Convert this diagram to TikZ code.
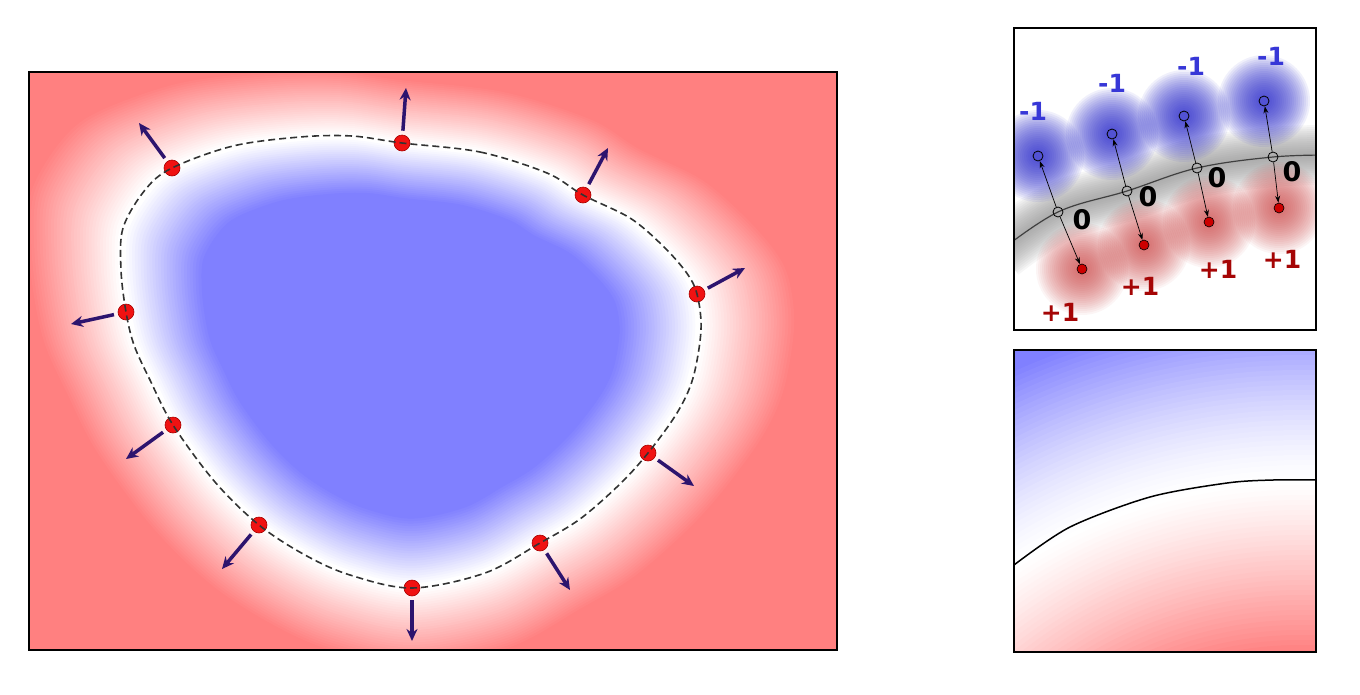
\documentclass[tikz,border=0pt]{standalone}
\usepackage{fontspec}
\setsansfont{DejaVu Sans}
\usepackage{tikz}
\usetikzlibrary{arrows.meta}
\definecolor{fieldred}{RGB}{255,128,128}
\definecolor{fieldblue}{RGB}{128,128,255}
\definecolor{dotred}{RGB}{240,18,18}
\definecolor{normalcol}{RGB}{45,20,110}
\definecolor{glowblue}{RGB}{40,40,205}
\definecolor{glowred}{RGB}{205,60,60}
\definecolor{lblblue}{RGB}{55,55,215}
\definecolor{lblred}{RGB}{165,5,5}

% zero level set of the left panel
\newcommand{\zerolevel}{plot[smooth cycle, tension=0.55] coordinates {(402,143) (480,152) (547,173) (583,195) (630,218) (662,245) (686,272) (697,294) (701,330) (693,378) (677,413) (648,453) (620,484) (580,519) (540,543) (485,573) (412,588) (350,575) (305,555) (259,525) (215,482) (173,425) (150,380) (134,345) (126,312) (121,270) (123,228) (145,190) (172,168) (233,146) (300,137) (352,136)}}
% boundary curve of the top right panel
\newcommand{\zoomcurve}{plot[smooth, tension=0.6] coordinates {(1000,251) (1058,212) (1127,191) (1197,168) (1273,157) (1330,155)}}

\begin{document}
\begin{tikzpicture}[
    x=1pt, y=-1pt,
    dot/.style={circle, fill=dotred, draw=red!65!black, line width=0.6pt,
                inner sep=0pt, minimum size=16pt},
    normal/.style={-{Stealth[length=12pt, width=11pt]}, line width=3.5pt,
                   color=normalcol, shorten <=4pt},
    hollow/.style={circle, draw=black, line width=0.8pt, inner sep=0pt,
                   minimum size=10pt},
    charge/.style={circle, fill=red!80!black, draw=black, line width=0.6pt,
                   inner sep=0pt, minimum size=10pt},
    pair/.style={-{Stealth[length=7pt, width=5pt]}, line width=0.7pt},
    lbl/.style={font=\sffamily\bfseries\fontsize{25}{25}\selectfont, inner sep=0pt},
]
    \useasboundingbox (0,0) rectangle (1360,694);

    % left panel: field
    \begin{scope}
        \clip (29,72) rectangle (837,650);
        \fill[fieldred] (29,72) rectangle (837,650);
        \foreach \k in {0,...,32}{
            \pgfmathsetmacro\s{1.33-0.01*\k}
            \pgfmathsetmacro\p{100*(32-\k)/32}
            \fill[fieldred!\p!white, scale around={\s:(410,340)}] \zerolevel;
        }
        \foreach \k in {0,...,26}{
            \pgfmathsetmacro\s{0.98-0.01*\k}
            \pgfmathsetmacro\p{100*(\k+1)/27}
            \fill[fieldblue!\p!white, scale around={\s:(410,340)}] \zerolevel;
        }
    \end{scope}
    \draw[line width=2.5pt] (29,72) rectangle (837,650);

    % points on the front and outward normals
    \node[dot] (d1) at (402,143) {};
    \node[dot] (d2) at (583,195) {};
    \node[dot] (d3) at (697,294) {};
    \node[dot] (d4) at (648,453) {};
    \node[dot] (d5) at (540,543) {};
    \node[dot] (d6) at (412,588) {};
    \node[dot] (d7) at (259,525) {};
    \node[dot] (d8) at (173,425) {};
    \node[dot] (d9) at (126,312) {};
    \node[dot] (d10) at (172,168) {};
    \draw[dash pattern=on 7pt off 4pt, line width=1.6pt, black!80] \zerolevel;

    \coordinate (t1) at (406,88);
    \coordinate (t2) at (608,148);
    \coordinate (t3) at (745,268);
    \coordinate (t4) at (694,486);
    \coordinate (t5) at (570,590);
    \coordinate (t6) at (412,641);
    \coordinate (t7) at (222,569);
    \coordinate (t8) at (126,459);
    \coordinate (t9) at (71,324);
    \coordinate (t10) at (139,123);
    \foreach \i in {1,...,10}
        \draw[normal] (d\i) -- (t\i);

    % top right panel: signed neighbours
    \begin{scope}
        \clip (1014,28) rectangle (1316,330);
        \fill[white] (1014,28) rectangle (1316,330);
        \foreach \w in {60,56,...,4}
            \draw[black!45, opacity=0.07, line width=\w pt] \zoomcurve;
        \foreach \i/\bx/\by/\rx/\ry in {1/1038/156/1082/269, 2/1112/134/1144/245,
                                        3/1184/116/1209/222, 4/1264/101/1279/208}{
            \coordinate (b\i) at (\bx,\by);
            \coordinate (r\i) at (\rx,\ry);
            \foreach \rr in {46,44,...,4}{
                \fill[glowblue, fill opacity=0.065] (b\i) circle (\rr pt);
                \fill[glowred, fill opacity=0.05] (r\i) circle (\rr pt);
            }
        }
        \draw[line width=1.2pt, black!75] \zoomcurve;
    \end{scope}
    \draw[line width=1.5pt] (1014,28) rectangle (1316,330);

    \foreach \i/\zx/\zy in {1/1058/212, 2/1127/191, 3/1197/168, 4/1273/157}{
        \node[hollow] (zc\i) at (\zx,\zy) {};
        \node[hollow] (bc\i) at (b\i) {};
        \node[charge] (rc\i) at (r\i) {};
        \draw[pair] (zc\i) -- (bc\i);
        \draw[pair] (zc\i) -- (rc\i);
    }

    \node[lbl, lblblue] (m1) at (1033,111) {-1};
    \node[lbl, lblblue] (m2) at (1112,83) {-1};
    \node[lbl, lblblue] (m3) at (1191,66) {-1};
    \node[lbl, lblblue] (m4) at (1271,56) {-1};
    \node[lbl, font=\sffamily\bfseries\fontsize{27}{27}\selectfont] (n1) at (1082,220) {0};
    \node[lbl, font=\sffamily\bfseries\fontsize{27}{27}\selectfont] (n2) at (1148,197) {0};
    \node[lbl, font=\sffamily\bfseries\fontsize{27}{27}\selectfont] (n3) at (1217,178) {0};
    \node[lbl, font=\sffamily\bfseries\fontsize{27}{27}\selectfont] (n4) at (1292,172) {0};
    \node[lbl, lblred] (p1) at (1060,312) {+1};
    \node[lbl, lblred] (p2) at (1140,286) {+1};
    \node[lbl, lblred] (p3) at (1218,269) {+1};
    \node[lbl, lblred] (p4) at (1282,259) {+1};

    % bottom right panel: close-up of the field
    \begin{scope}
        \clip (1014,350) rectangle (1316,652);
        \fill[fieldblue] (1014,350) rectangle (1316,652);
        \foreach \k in {0,...,35}{
            \pgfmathsetmacro\r{700-5*\k}
            \pgfmathsetmacro\p{100*((\r-525)/175)^1.4}
            \fill[fieldblue!\p!white] (1300,1005) circle (\r pt);
        }
        \foreach \k in {0,...,34}{
            \pgfmathsetmacro\r{525-5*\k}
            \pgfmathsetmacro\p{100*(\k/34)^1.2}
            \fill[fieldred!\p!white] (1300,1005) circle (\r pt);
        }
        \draw[line width=1.5pt] plot[smooth] coordinates {(1014,565) (1070,527) (1150,497) (1227,483) (1273,480) (1318,480)};
    \end{scope}
    \draw[line width=1.5pt] (1014,350) rectangle (1316,652);
\end{tikzpicture}
\end{document}
